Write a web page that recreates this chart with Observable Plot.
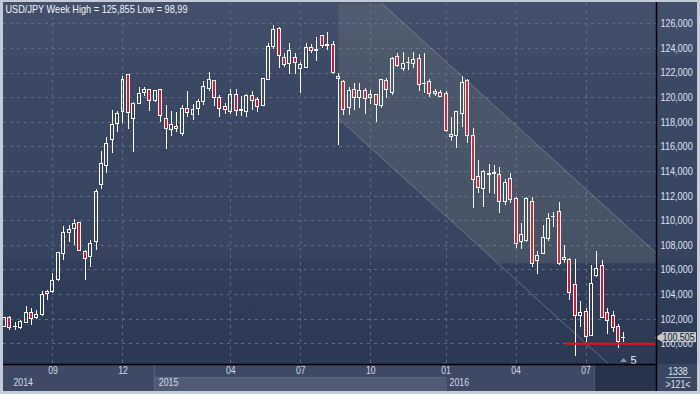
<!DOCTYPE html>
<html><head><meta charset="utf-8">
<script src="https://cdn.jsdelivr.net/npm/d3@7"></script>
<script src="https://cdn.jsdelivr.net/npm/@observablehq/plot@0.6"></script>
<style>
html,body{margin:0;padding:0;background:#c4cbd6;}
#chart{width:700px;height:394px;overflow:hidden;}
</style></head><body><div id="chart"></div>
<script>
// ---- data (weekly USD/JPY candles) ----
const open = [101.37,102.07,101.34,101.31,101.72,102.54,102.07,102.35,104.17,104.17,
105.17,107.29,108.98,109.30,109.82,107.48,107.02,108.24,112.91,114.46,
116.58,117.89,118.84,121.83,118.29,119.52,120.39,120.66,119.74,120.60,
118.29,117.40,117.64,117.04,119.08,118.59,119.11,119.65,120.71,121.36,
120.01,119.25,118.80,120.24,118.88,118.80,120.13,119.80,119.34,121.43,
124.10,125.59,123.23,122.74,123.23,122.33,122.41,124.04,123.82,124.97,
124.23,124.26,121.49,121.24,119.15,120.62,119.94,120.56,119.94,120.24,
119.36,121.39,120.36,123.34,122.34,122.78,122.75,123.15,121.07,121.26,
120.26,120.39,120.31,116.79,116.87,118.68,121.39,116.92,113.59,112.59,
113.73,113.81,113.73,111.53,113.40,111.78,108.31,108.34,111.51,106.69,
107.31,108.53,110.29,110.69,106.77,106.77,104.79,102.25,102.57,100.62,
105.49,106.31,102.49,102.27,101.35,100.47];
const high = [102.15,102.18,101.72,101.91,103.05,102.89,102.73,104.22,104.30,105.72,
107.45,109.52,109.60,110.06,109.85,107.56,108.38,112.54,115.63,116.80,
118.97,118.84,121.74,121.86,119.63,120.85,120.79,120.70,120.60,120.66,
119.38,118.89,118.76,119.33,120.52,119.44,119.87,121.34,122.04,121.42,
120.20,119.52,120.70,120.70,120.07,120.24,120.48,119.99,121.55,124.37,
125.86,125.73,123.55,124.42,123.55,122.87,124.37,124.29,124.86,125.07,
125.32,124.53,121.98,121.38,120.83,121.11,121.16,120.75,120.56,120.29,
121.50,121.58,123.29,123.61,123.70,123.29,123.64,123.50,123.56,121.47,
120.66,120.58,120.50,118.41,118.87,121.74,121.47,117.47,114.89,114.05,
114.57,114.49,114.35,113.32,113.81,111.85,109.80,111.85,111.86,107.50,
109.61,110.56,110.64,111.45,107.99,106.90,106.85,103.44,102.84,106.36,
107.50,106.77,102.84,102.65,101.54,100.94];
const low = [101.30,101.04,101.10,101.15,101.70,101.45,101.99,102.18,103.49,104.11,
105.06,106.80,108.24,108.02,107.51,105.12,106.20,107.56,112.56,113.81,
115.44,117.18,117.89,117.45,115.58,119.46,120.11,118.84,119.63,118.02,
115.82,116.88,117.18,116.88,118.38,118.16,118.57,119.35,120.52,119.25,
118.35,118.67,118.66,118.44,118.44,118.39,118.93,118.80,119.26,121.38,
123.88,122.38,122.41,121.92,121.92,120.35,122.33,123.61,122.95,123.96,
123.82,121.92,116.08,118.53,118.58,118.93,119.15,118.61,119.48,117.98,
119.09,119.90,120.17,122.48,122.15,122.21,122.34,120.53,120.31,120.04,
120.12,119.98,117.19,116.46,115.89,117.60,116.25,110.97,112.24,111.05,
112.24,112.13,110.61,111.23,111.37,107.72,107.63,108.26,106.23,105.63,
107.25,108.31,109.48,106.40,106.50,103.52,98.99,101.35,100.13,100.59,
105.41,102.05,100.73,100.94,99.59,100.13];
const close = [102.07,101.26,101.40,101.80,102.54,101.99,102.32,103.95,104.03,105.12,
107.37,109.00,109.25,109.74,107.56,106.88,108.11,112.37,114.63,116.26,
117.80,118.65,121.47,118.78,119.52,120.33,120.66,119.76,120.52,118.54,
117.48,117.80,117.48,119.11,118.78,119.03,119.63,120.85,121.42,120.01,
119.11,119.03,120.24,118.88,118.99,120.10,119.72,119.26,121.51,124.10,
125.51,123.39,122.66,123.82,122.79,122.66,124.04,123.82,123.91,124.23,
124.31,121.98,121.70,118.99,120.56,119.94,120.56,119.88,120.24,119.39,
121.45,120.63,123.10,122.61,122.75,122.83,123.07,120.99,121.12,120.31,
120.42,120.04,117.25,116.98,118.82,121.18,116.92,113.27,112.64,113.99,
113.81,113.86,111.56,113.05,111.69,108.07,108.80,111.78,106.50,107.17,
108.61,110.15,110.34,106.50,106.96,104.11,102.22,102.49,100.59,104.87,
106.09,102.11,101.89,101.30,100.18,100.505];

const monthTicks  = [9, 22, 42, 55, 68, 82, 95, 108];
const monthLabels = ["09","12","04","07","10","01","04","07"];
const yearBounds  = [28, 82];
const yearLabelAt = [1, 28, 82];
const yearLabels  = ["2014","2015","2016"];
const priceTicks  = [100,102,104,106,108,110,112,114,116,118,120,122,124,126];
const titleText   = "USD/JPY Week High = 125,855 Low = 98,99";
const lastPrice   = 100.505;
const supportLevel = 100.0;
const supportFrom  = 104.2;
const markerCount  = "5";
const barsTotal    = "1338";
const barsShown    = ">121<";
// trend channel (bar index, price)
const channelUpper = [[70.14, 127.63], [121.07, 107.35]];
const channelLower = [[62.08, 118.28], [112.27, 98.32]];
const channelLeft  = 62.0;
const channelCut   = 106.52;

// ---- layout ----
const X_DOMAIN = [-0.19, 121.07];
const Y_DOMAIN = [98.318, 127.649];
const FONT = "'Liberation Sans',Arial,sans-serif";
const RED = "#e8102c";

const candles = open.map((o, i) => ({i, o, h: high[i], l: low[i], c: close[i]}));
const ups = candles.filter(d => d.c >= d.o);
const downs = candles.filter(d => d.c < d.o);

const fmt = d3.formatLocale({decimal: ",", thousands: ".", grouping: [3], currency: ["", ""]}).format(".3f");

const upY = x => channelUpper[0][1] + (x - channelUpper[0][0]) * (channelUpper[1][1] - channelUpper[0][1]) / (channelUpper[1][0] - channelUpper[0][0]);
const loX = y => channelLower[0][0] + (y - channelLower[0][1]) * (channelLower[1][0] - channelLower[0][0]) / (channelLower[1][1] - channelLower[0][1]);
const xEnd = X_DOMAIN[1];
const channelPoly = [
  {x: channelLeft, y: Y_DOMAIN[1]},
  {x: channelUpper[0][0], y: Y_DOMAIN[1]},
  {x: xEnd, y: upY(xEnd)},
  {x: xEnd, y: channelCut},
  {x: loX(channelCut), y: channelCut},
  {x: channelLower[0][0], y: channelLower[0][1]},
  {x: channelLeft, y: channelLower[0][1]}
];
const upperLine = [{x: channelUpper[0][0], y: channelUpper[0][1]}, {x: xEnd, y: upY(xEnd)}];
const lowerLine = channelLower.map(([x, y]) => ({x, y}));

const grid = {stroke: "#5e6a86", strokeDasharray: "3,4", strokeWidth: 1, shapeRendering: "crispEdges"};
const crisp = {shapeRendering: "crispEdges", clip: true};

const plot = Plot.plot({
  width: 700, height: 394,
  marginLeft: 3, marginRight: 44, marginTop: 3, marginBottom: 30,
  style: {background: "transparent", fontFamily: FONT, fontSize: "10.6px", overflow: "visible"},
  x: {domain: X_DOMAIN, axis: null},
  y: {domain: Y_DOMAIN, axis: null},
  marks: [
    Plot.ruleY(priceTicks, grid),
    Plot.ruleX(monthTicks, grid),
    // wicks
    Plot.ruleX(candles, {x: "i", y1: d => Math.max(d.o, d.c), y2: "h", stroke: "#ffffff", strokeWidth: 1, ...crisp}),
    Plot.ruleX(candles, {x: "i", y1: "l", y2: d => Math.min(d.o, d.c), stroke: "#ffffff", strokeWidth: 1, ...crisp}),
    // bodies
    Plot.rect(ups, {x1: d => d.i - 0.5, x2: d => d.i + 0.5, y1: "o", y2: "c", insetLeft: 1.2, insetRight: 1.2, fill: "none", stroke: "#ffffff", strokeWidth: 1, ...crisp}),
    Plot.rect(downs, {x1: d => d.i - 0.5, x2: d => d.i + 0.5, y1: "c", y2: "o", insetLeft: 1.2, insetRight: 1.2, fill: RED, stroke: "#ffffff", strokeWidth: 1, ...crisp}),
    // channel
    Plot.line(channelPoly, {x: "x", y: "y", fill: "#b4b896", fillOpacity: 0.13, stroke: "none", clip: true}),
    Plot.line(upperLine, {x: "x", y: "y", stroke: "#9aa3b2", strokeOpacity: 0.5, strokeWidth: 1, clip: true}),
    Plot.line(lowerLine, {x: "x", y: "y", stroke: "#9aa3b2", strokeOpacity: 0.5, strokeWidth: 1, clip: true}),
    // support line
    Plot.ruleY([supportLevel], {x1: supportFrom, x2: xEnd, stroke: "#ff0a0a", strokeWidth: 2}),
    // title
    Plot.text([titleText], {frameAnchor: "top-left", dx: 2, dy: 1.5, lineAnchor: "top", fill: "#f2f4f8", textAnchor: "start", fontSize: 11.2}),
    // right axis labels
    Plot.text(priceTicks, {x: xEnd, y: d => d, text: d => fmt(d), dx: 4, textAnchor: "start", fill: "#dde4ef"}),
    // month labels
    Plot.text(monthTicks, {x: d => d, text: (d, i) => monthLabels[i], frameAnchor: "bottom", dy: 9, fill: "#d3dbe8"}),
    // year labels
    Plot.text(yearLabelAt, {x: d => d, text: (d, i) => yearLabels[i], frameAnchor: "bottom", dy: 21, dx: 3.5, textAnchor: "start", fill: "#d3dbe8"}),
    // marker count
    Plot.text([markerCount], {frameAnchor: "bottom-right", dx: -20, dy: -1, lineAnchor: "bottom", textAnchor: "end", fill: "#eef1f6", fontSize: 11}),
    // last price tag (pointer + box + text)
    Plot.dot([lastPrice], {x: xEnd, y: d => d, dx: 4.5, symbol: "triangle", r: 4, rotate: -90, fill: "#c6cad1", stroke: "none"}),
    Plot.rect([lastPrice], {x1: xEnd, x2: xEnd, y1: d => d, y2: d => d, insetLeft: 6, insetRight: -40, insetTop: -5, insetBottom: -5, fill: "#c6cad1"}),
    Plot.text([lastPrice], {x: xEnd, y: d => d, text: d => fmt(d), dx: 6, textAnchor: "start", fill: "#111111"})
  ]
});

document.getElementById("chart").appendChild(plot);

// ---- chrome ----
const svg = d3.select(plot);
const xs = plot.scale("x");
const L = 3, R = 656, T = 2, B = 364, W = 700, H = 394;
const xb = v => xs.apply(v);

const back = svg.insert("g", ":first-child");
const defs = back.append("defs");
const lg = defs.append("linearGradient").attr("id", "bgGrad")
  .attr("gradientUnits", "userSpaceOnUse").attr("x1", 0).attr("y1", T).attr("x2", 0).attr("y2", B);
[[0, "#43506b"], [0.15, "#3f4c67"], [0.16, "#3c4965"], [0.7, "#37445f"], [0.72, "#323f5b"], [1, "#2c3955"]]
  .forEach(([o, c]) => lg.append("stop").attr("offset", o).attr("stop-color", c));
back.append("rect").attr("x", 0).attr("y", 0).attr("width", W).attr("height", H).attr("fill", "#c4cbd6");
back.append("rect").attr("x", L).attr("y", T).attr("width", 697 - L).attr("height", 391 - T).attr("fill", "url(#bgGrad)");
back.append("rect").attr("x", L).attr("y", B).attr("width", R - L).attr("height", 391 - B).attr("fill", "#3d4965");
back.append("rect").attr("x", xb(yearBounds[0])).attr("y", 378).attr("width", xb(yearBounds[1]) - xb(yearBounds[0])).attr("height", 13).attr("fill", "#4f5b74");
back.append("line").attr("x1", xb(yearBounds[0])).attr("x2", xb(yearBounds[1])).attr("y1", 377.5).attr("y2", 377.5).attr("stroke", "#5e6983");
back.append("rect").attr("x", 595).attr("y", B).attr("width", R - 595).attr("height", 391 - B).attr("fill", "#27324b");
back.append("line").attr("x1", 594.5).attr("x2", 594.5).attr("y1", B).attr("y2", 391).attr("stroke", "#4c5870");
back.append("line").attr("x1", xb(yearBounds[0]) - 0.5).attr("x2", xb(yearBounds[0]) - 0.5).attr("y1", B).attr("y2", 391).attr("stroke", "#5e6983");
back.append("line").attr("x1", xb(yearBounds[1]) + 0.5).attr("x2", xb(yearBounds[1]) + 0.5).attr("y1", 378).attr("y2", 391).attr("stroke", "#5e6983");
back.append("rect").attr("x", R).attr("y", B).attr("width", 697 - R).attr("height", 391 - B).attr("fill", "#3b4762");

const front = svg.append("g");
front.append("line").attr("x1", L).attr("x2", R).attr("y1", B + 0.5).attr("y2", B + 0.5).attr("stroke", "#000").attr("stroke-width", 1.5);
front.append("line").attr("x1", R + 0.5).attr("x2", R + 0.5).attr("y1", T).attr("y2", 391).attr("stroke", "#000").attr("stroke-width", 1.5);
front.append("polygon").attr("points", "620,362 623.5,358 627,362").attr("fill", "#8a94a6");
front.append("text").attr("x", 678).attr("y", 371).attr("dy", "0.35em").attr("text-anchor", "middle")
  .style("font-family", FONT).style("font-size", "10.6px").attr("fill", "#dde4ef").text(barsTotal);
front.append("line").attr("x1", 666).attr("x2", 691).attr("y1", 377.5).attr("y2", 377.5).attr("stroke", "#aab4c4");
front.append("text").attr("x", 678).attr("y", 384.5).attr("dy", "0.35em").attr("text-anchor", "middle")
  .style("font-family", FONT).style("font-size", "10.6px").attr("fill", "#dde4ef").text(barsShown);

// pin text widths to the reference's compact UI font
const widthFor = s => {
  if (s === titleText) return 182;
  if (/^\d{3},\d{3}$/.test(s)) return 32.2;
  if (/^\d{2}$/.test(s)) return 9.6;
  if (/^\d{4}$/.test(s)) return 19.5;
  if (s === barsShown) return 25;
  return null;
};
svg.selectAll("text").each(function () {
  const w = widthFor(this.textContent);
  if (w) d3.select(this).attr("textLength", w).attr("lengthAdjust", "spacingAndGlyphs");
});
</script>
</body></html>
